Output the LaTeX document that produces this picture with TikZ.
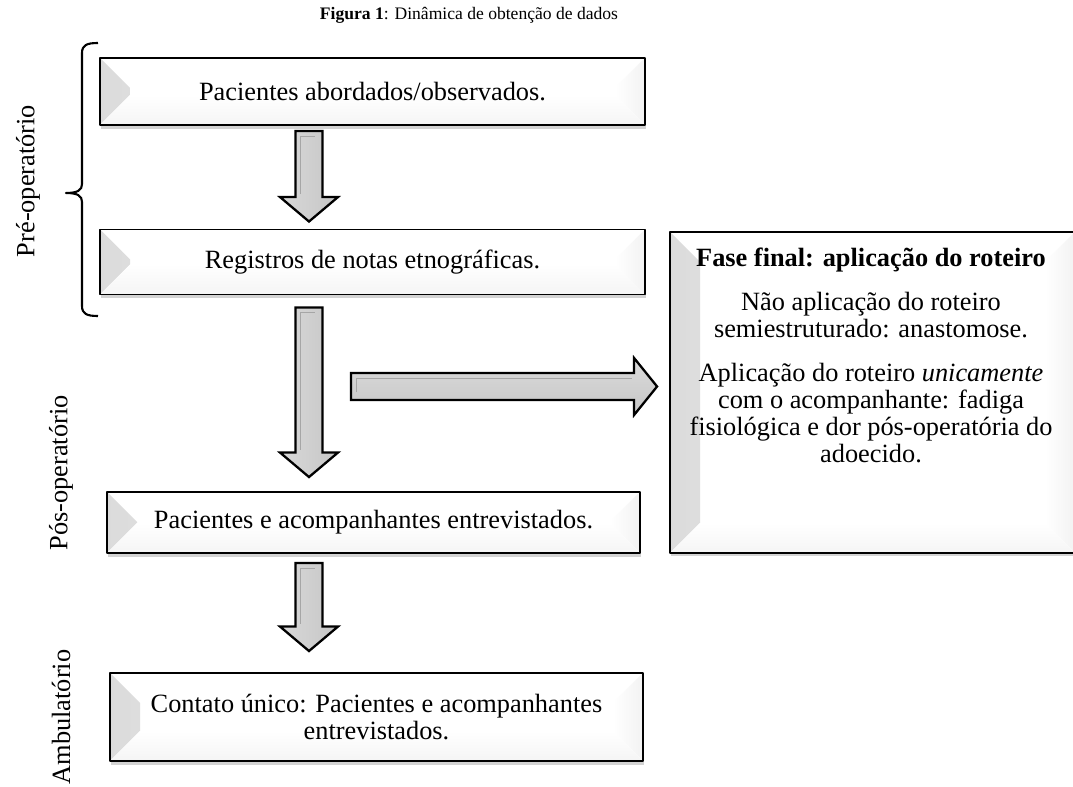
\documentclass[tikz,border=0pt]{standalone}
\usepackage{fontspec}
\setmainfont{Liberation Serif}
\usetikzlibrary{calc,shadows}

\newcommand\boxfont{\fontsize{15}{15.4}\selectfont}

% block arrow pointing down, from #1 (top of shaft) to #2 (tip)
\newcommand\blkdown[2]{%
  \path[blkarrow, left color=gray!30, middle color=white, right color=gray!45]
    let \p1=(#1), \p2=(#2) in
    (\x1-0.27cm,\y1) -- (\x1+0.27cm,\y1) -- (\x1+0.27cm,\y2+0.49cm)
    -- (\x1+0.58cm,\y2+0.49cm) -- (\x1,\y2) -- (\x1-0.58cm,\y2+0.49cm)
    -- (\x1-0.27cm,\y2+0.49cm) -- cycle;
  \draw[gray!70, line width=0.5pt] let \p1=(#1), \p2=(#2) in
    (\x1-0.17cm,\y2+0.55cm) -- (\x1-0.17cm,\y1-0.1cm) -- (\x1+0.12cm,\y1-0.1cm);}

% block arrow pointing right, from #1 (back of shaft) to #2 (tip)
\newcommand\blkright[2]{%
  \path[blkarrow, top color=gray!28, middle color=white, bottom color=gray!45]
    let \p1=(#1), \p2=(#2) in
    (\x1,\y1+0.27cm) -- (\x2-0.46cm,\y1+0.27cm) -- (\x2-0.46cm,\y1+0.57cm)
    -- (\x2,\y1) -- (\x2-0.46cm,\y1-0.57cm) -- (\x2-0.46cm,\y1-0.27cm)
    -- (\x1,\y1-0.27cm) -- cycle;
  \draw[gray!70, line width=0.5pt] let \p1=(#1), \p2=(#2) in
    (\x1+0.1cm,\y1-0.12cm) -- (\x1+0.1cm,\y1+0.17cm) -- (\x2-0.5cm,\y1+0.17cm);}

\begin{document}
\begin{tikzpicture}[
  x=0.02cm, y=-0.02cm,
  line join=round,
  bevelbox/.style={
    draw=black, line width=1.1pt, fill=white,
    drop shadow={shadow xshift=0.6pt, shadow yshift=-2pt, opacity=.35},
    align=center, inner sep=0pt, font=\boxfont,
    path picture={
      \fill[left color=gray!28, right color=gray!4]
        (path picture bounding box.north west) -- ++(\bev,-\bev)
        -- ([shift={(\bev,\bev)}]path picture bounding box.south west)
        -- (path picture bounding box.south west) -- cycle;
      \fill[left color=white, right color=gray!10]
        (path picture bounding box.north east) -- ++(-\bev,-\bev)
        -- ([shift={(-\bev,\bev)}]path picture bounding box.south east)
        -- (path picture bounding box.south east) -- cycle;
      \fill[top color=white, bottom color=gray!8]
        (path picture bounding box.south west) -- ++(\bev,\bev)
        -- ([shift={(-\bev,\bev)}]path picture bounding box.south east)
        -- (path picture bounding box.south east) -- cycle;
    }},
  blkarrow/.style={draw=black, line width=1.3pt, line join=miter},
  sidelabel/.style={rotate=90, font=\fontsize{15}{15}\selectfont},
  bracket/.style={line width=1.2pt}
]

% ---------- parameters ----------
\def\bev{0.6cm}

\useasboundingbox (0,0) rectangle (1073,787);

% ---------- title ----------
\node[font=\fontsize{10}{12}\selectfont] (title) at (469,15)
  {\textbf{Figura 1}: Dinâmica de obtenção de dados};

% ---------- boxes ----------
\node[bevelbox, minimum width=10.9cm, minimum height=1.34cm] (obs) at (372.5,91.5)
  {Pacientes abordados/observados.};
\node[bevelbox, minimum width=10.9cm, minimum height=1.3cm] (reg) at (372.5,262)
  {Registros de notas etnográficas.};
\node[bevelbox, minimum width=10.66cm, minimum height=1.22cm] (ent) at (373.5,522.5)
  {Pacientes e acompanhantes entrevistados.};
\node[bevelbox, minimum width=10.66cm, minimum height=1.76cm] (cont) at (376.5,717)
  {Contato único: Pacientes e acompanhantes\\ entrevistados.};
\node[bevelbox, minimum width=8.1cm, minimum height=6.42cm] (fase) at (872.5,392.5) {};
\node[align=center, inner sep=0pt, font=\boxfont, anchor=north] (fasetxt)
  at ($(fase.north)+(-1.5,17)$)
  {\textbf{Fase final: aplicação do roteiro}\\[9.4pt]
   Não aplicação do roteiro\\ semiestruturado: anastomose.\\[9.4pt]
   Aplicação do roteiro \textit{unicamente}\\ com o acompanhante: fadiga\\
   fisiológica e dor pós-operatória do\\ adoecido.};

% ---------- arrows ----------
\coordinate (ax) at (309,0);
\coordinate (a1t) at ($(obs.south -| ax)+(0,5)$);
\coordinate (a1b) at ($(reg.north -| ax)+(0,-7)$);
\coordinate (a2t) at ($(reg.south -| ax)+(0,12)$);
\coordinate (a2b) at ($(ent.north -| ax)+(0,-14)$);
\coordinate (a3t) at ($(ent.south -| ax)+(0,9)$);
\coordinate (a3b) at ($(cont.north -| ax)+(0,-21)$);
\coordinate (h1a) at (351,386.5);
\coordinate (h1b) at ($(fase.west |- h1a)+(-12,0)$);

\blkdown{a1t}{a1b}
\blkdown{a2t}{a2b}
\blkdown{a3t}{a3b}
\blkright{h1a}{h1b}

% ---------- phases ----------
\draw[bracket] (98,43) .. controls (87,43) and (82,45) .. (82,53) -- (82,184)
  .. controls (82,190) and (78,193) .. (66,193)
  .. controls (78,193) and (82,196) .. (82,202) -- (82,306)
  .. controls (82,314) and (87,316) .. (98,316);
\node[sidelabel] (pre) at (28,181) {Pré-operatório};
\node[sidelabel] (pos) at (61,473) {Pós-operatório};
\node[sidelabel] (amb) at (61,717) {Ambulatório};

\end{tikzpicture}
\end{document}
